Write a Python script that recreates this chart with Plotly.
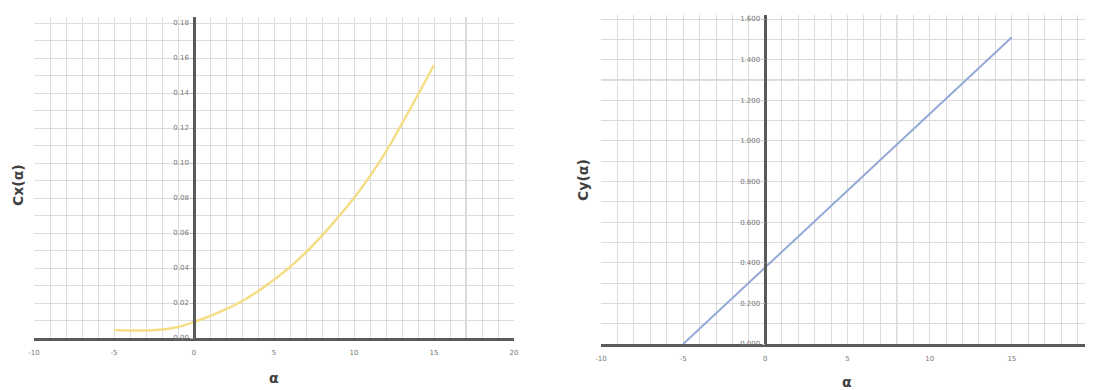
import plotly.graph_objects as go

# ---- data ----
alpha_cx = [-5, -4, -3, -2, -1, 0, 1, 2, 3, 4, 5, 6, 7, 8, 9, 10, 11, 12, 13, 14, 15]
cx_vals = [0.0046, 0.0043, 0.0043, 0.0048, 0.0063, 0.0092, 0.0125, 0.0165, 0.0210,
           0.0267, 0.0333, 0.0406, 0.0490, 0.0585, 0.0690, 0.0800, 0.0925, 0.1065,
           0.1225, 0.1390, 0.1560]
alpha_cy = [-5, 0, 5, 10, 15]
cy_vals = [0.000, 0.377, 0.755, 1.133, 1.510]

x_ticks = [-10, -5, 0, 5, 10, 15, 20]
cx_ticks = [0.00, 0.02, 0.04, 0.06, 0.08, 0.10, 0.12, 0.14, 0.16, 0.18]
cy_ticks = [0.0, 0.2, 0.4, 0.6, 0.8, 1.0, 1.2, 1.4, 1.6]

W, H = 1093, 390
OFF = 8  # page offset of the figure (body margin)
# pixel layout in page coordinates
L1, R1 = 34, 514
L2, R2 = 601, 1094
B1, T1 = 338, 17
B2, T2 = 344, 15

def px(v):
    return (v - OFF) / W

def py(v):
    return (H - (v - OFF)) / H

GRID = "#dcdcdc"
AXIS = "#5a5a5a"
TICKF = dict(family="DejaVu Sans", size=7, color="#777777")

fig = go.Figure()
fig.add_trace(go.Scatter(x=alpha_cx, y=cx_vals, mode="lines", line=dict(color="#F4DD85", width=2.5, shape="spline"),
                         xaxis="x", yaxis="y", showlegend=False))
fig.add_trace(go.Scatter(x=alpha_cy, y=cy_vals, mode="lines", line=dict(color="#94A9D6", width=2),
                         xaxis="x2", yaxis="y2", showlegend=False))

cx_top = 0.18 + (23 - T1) / 17.5 * 0.01
cy_top = 1.6 + (19 - T2) / 40.6 * 0.2

xa_common = dict(range=[-10, 20], tickvals=x_ticks, ticktext=[str(v) for v in x_ticks],
                 showgrid=True, gridcolor=GRID, gridwidth=1,
                 minor=dict(dtick=1, showgrid=True, gridcolor=GRID, gridwidth=1),
                 showline=True, linecolor=AXIS, linewidth=2.5, zeroline=False,
                 tickfont=TICKF, ticks="", ticklabelstandoff=6, fixedrange=True,
                 automargin=False)

fig.update_layout(
    width=W, height=H, margin=dict(l=0, r=0, t=0, b=0, autoexpand=False),
    paper_bgcolor="white", plot_bgcolor="white",
    xaxis=dict(domain=[px(L1), px(R1)], anchor="y", **xa_common),
    xaxis2=dict(domain=[px(L2), min(1.0, px(R2))], anchor="y2", **xa_common),
    yaxis=dict(domain=[py(B1), py(T1)], range=[0, cx_top], anchor="free",
               position=px(L1 + (R1 - L1) / 3), tickvals=cx_ticks,
               ticktext=[f"{v:.2f}" for v in cx_ticks], tickfont=TICKF,
               showgrid=True, gridcolor=GRID, minor=dict(dtick=0.01, showgrid=True, gridcolor=GRID),
               showline=True, linecolor=AXIS, linewidth=2.5, zeroline=False,
               ticks="outside", ticklen=3, tickcolor="#bbbbbb", automargin=False),
    yaxis2=dict(domain=[py(B2), py(T2)], range=[0, cy_top], anchor="free",
                position=px(L2 + (R2 - L2) / 3), tickvals=cy_ticks,
                ticktext=[f"{v:.3f}" for v in cy_ticks], tickfont=TICKF,
                showgrid=True, gridcolor=GRID, minor=dict(dtick=0.1, showgrid=True, gridcolor=GRID),
                showline=True, linecolor=AXIS, linewidth=2.5, zeroline=False,
                ticks="outside", ticklen=3, tickcolor="#bbbbbb", automargin=False),
)

# slightly darker grid lines seen in the reference
DARK = "#b4b4b4"
fig.add_shape(type="line", xref="x", yref="y", x0=17, x1=17, y0=0, y1=cx_top, line=dict(color=DARK, width=1), layer="below")
fig.add_shape(type="line", xref="x2", yref="y2", x0=8, x1=8, y0=0, y1=cy_top, line=dict(color=DARK, width=1), layer="below")
for yv in (1.1, 1.3):
    fig.add_shape(type="line", xref="x2", yref="y2", x0=-10, x1=20, y0=yv, y1=yv, line=dict(color=DARK, width=1), layer="below")

TITLEF = dict(family="DejaVu Sans", size=14, color="#404040")
ann = dict(xref="paper", yref="paper", showarrow=False, font=TITLEF, xanchor="center", yanchor="middle")
fig.add_annotation(text="<b>Cx(α)</b>", x=px(18), y=py(185), textangle=-90, **ann)
fig.add_annotation(text="<b>α</b>", x=px((L1 + R1) / 2), y=py(378), **ann)
fig.add_annotation(text="<b>Cy(α)</b>", x=px(583), y=py(180), textangle=-90, **ann)
fig.add_annotation(text="<b>α</b>", x=px((L2 + R2) / 2), y=py(382), **ann)

fig.write_html("out.html")
